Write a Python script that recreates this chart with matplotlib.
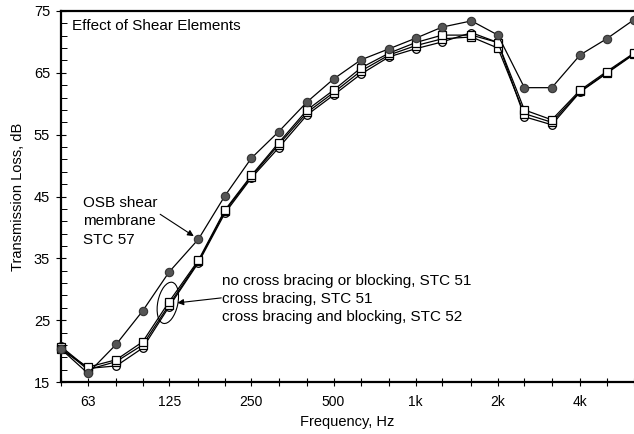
import matplotlib
matplotlib.use('Agg')
import matplotlib.pyplot as plt
from matplotlib.patches import Ellipse
from matplotlib.transforms import ScaledTranslation
from matplotlib.ticker import FixedLocator

plt.rcParams['font.family'] = ['Liberation Sans', 'DejaVu Sans']

# 1/3 octave bands, Hz
freq = [50, 63, 80, 100, 125, 160, 200, 250, 315, 400, 500, 630, 800,
        1000, 1250, 1600, 2000, 2500, 3150, 4000, 5000, 6300]

# transmission loss, dB
osb_shear = [20.4, 16.4, 21.1, 26.5, 32.8, 38.1, 45.1, 51.2, 55.5, 60.3, 64.0,
             67.1, 68.9, 70.6, 72.4, 73.4, 71.1, 62.6, 62.6, 67.9, 70.5, 73.6]
no_bracing = [20.8, 17.2, 17.6, 20.5, 27.2, 34.3, 42.3, 48.0, 52.9, 58.2, 61.4,
              64.8, 67.6, 68.9, 70.0, 71.5, 69.9, 57.9, 56.6, 61.9, 64.9, 68.0]
bracing = [20.6, 17.0, 18.3, 21.0, 27.5, 34.5, 42.6, 48.2, 53.4, 58.6, 61.8,
           65.3, 67.9, 69.4, 70.5, 70.8, 69.0, 58.4, 57.0, 62.0, 65.0, 68.1]
bracing_blocking = [20.3, 17.4, 18.6, 21.5, 28.0, 34.7, 42.8, 48.4, 53.7, 59.0, 62.2,
                    65.8, 68.2, 69.9, 71.1, 71.1, 69.9, 59.0, 57.4, 62.2, 65.2, 68.2]

tick_freqs = [63, 125, 250, 500, 1000, 2000, 4000]
tick_labels = ['63', '125', '250', '500', '1k', '2k', '4k']
y_ticks = [15, 25, 35, 45, 55, 65, 75]

fig = plt.figure(figsize=(6.34, 4.34), dpi=100)
ax = fig.add_axes([60.5 / 634, 52 / 434, (634 - 60.5) / 634, 371 / 434])

ax.plot(freq, no_bracing, color='black', lw=0.9, marker='o', ms=5.5,
        mfc='white', mec='black', mew=0.9, clip_on=False, zorder=3)
ax.plot(freq, bracing, color='black', lw=0.9, marker='s', ms=5.5,
        mfc='white', mec='black', mew=0.9, clip_on=False, zorder=3)
ax.plot(freq, bracing_blocking, color='black', lw=0.9, marker='s', ms=5.5,
        mfc='white', mec='black', mew=0.9, clip_on=False, zorder=3)
ax.plot(freq, osb_shear, color='black', lw=0.9, marker='o', ms=6,
        mfc='#555555', mec='#333333', mew=0.8, clip_on=False, zorder=4)

ax.set_xscale('log')
ax.set_xlim(50, 6186)
ax.set_ylim(15, 75)

ax.xaxis.set_minor_locator(FixedLocator([]))
ax.set_xticks(freq)
ax.set_xticklabels([tick_labels[tick_freqs.index(f)] if f in tick_freqs else ''
                    for f in freq])
ax.set_yticks(y_ticks)
ax.yaxis.set_minor_locator(FixedLocator(list(range(15, 76, 2))))

ax.tick_params(axis='x', which='major', direction='inout', length=6, width=0.8,
               labelsize=10, pad=6)
ax.tick_params(axis='y', which='major', direction='inout', length=7, width=0.8,
               labelsize=10.5, pad=4)
ax.tick_params(axis='y', which='minor', direction='in', length=4, width=0.7)

for side in ['left', 'bottom', 'top']:
    ax.spines[side].set_linewidth(1.6)
ax.spines['right'].set_visible(False)

ax.set_xlabel('Frequency, Hz', fontsize=10.5, labelpad=5)
ax.set_ylabel('Transmission Loss, dB', fontsize=10.5, labelpad=6)

ax.text(0.02, 0.978, 'Effect of Shear Elements', transform=ax.transAxes,
        fontsize=11, va='top', ha='left')

ax.annotate('OSB shear\nmembrane\nSTC 57', xy=(160, 38.1), xytext=(60.4, 45.1),
            fontsize=11, va='top', ha='left', linespacing=1.4,
            arrowprops=dict(arrowstyle='-|>', color='black', lw=0.8,
                            mutation_scale=9, shrinkA=0, shrinkB=4,
                            relpos=(0.92, 0.75)))

ax.text(196, 28.4, 'no cross bracing or blocking, STC 51\n'
        'cross bracing, STC 51\ncross bracing and blocking, STC 52',
        fontsize=11, va='center', ha='left', linespacing=1.38)
ax.annotate('', xy=(134, 27.8), xytext=(194, 28.6),
            arrowprops=dict(arrowstyle='-|>', color='black', lw=0.8,
                            mutation_scale=9, shrinkA=0, shrinkB=0))

ell = Ellipse((0, 0), width=0.2, height=0.42, angle=-12, fill=False,
              edgecolor='black', lw=0.8,
              transform=fig.dpi_scale_trans + ScaledTranslation(123.6, 27.8, ax.transData))
ax.add_patch(ell)

fig.savefig('out.png', dpi=100)
